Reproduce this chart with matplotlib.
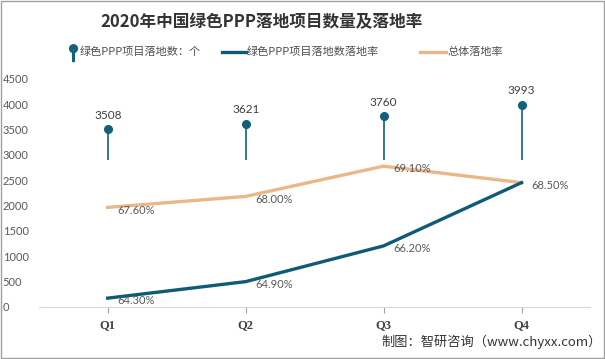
import matplotlib
matplotlib.use("Agg")
import matplotlib.pyplot as plt
from matplotlib.lines import Line2D
from matplotlib.patches import Rectangle
from matplotlib.path import Path

plt.rcParams['font.family'] = ['Noto Sans CJK SC', 'DejaVu Sans']

quarters = ["Q1", "Q2", "Q3", "Q4"]
green_count = [3508, 3621, 3760, 3993]
green_rate = [64.30, 64.90, 66.20, 68.50]
total_rate = [67.60, 68.00, 69.10, 68.50]
stem_base = 2900

teal = "#0f5b75"
marker_c = "#12607c"
tan = "#e9b886"

fig = plt.figure(figsize=(6.05, 3.59), dpi=100)
ax = fig.add_axes([0.064, 0.145, 0.912, 0.635])
x = list(range(len(quarters)))

# lollipops for project count
ax.vlines(x, stem_base, green_count, color=marker_c, lw=1.2, zorder=3)
ax.plot(x, green_count, 'o', color=marker_c, ms=5.5, zorder=4)
for xi, v in zip(x, green_count):
    ax.annotate(str(v), (xi, v), xytext=(0, 6), textcoords="offset points",
                ha="center", va="bottom", fontsize=8.5, color="#404040",
                family=["Lato"])

ax.set_xlim(-0.5, 3.5)
ax.set_ylim(0, 4500)
ax.set_yticks(range(0, 4501, 500))
ax.set_xticks(x)
ax.set_xticklabels(quarters, fontsize=9, fontweight="bold",
                   family=["Liberation Serif"], color="#404040")
ax.tick_params(axis="y", length=0, labelsize=8, labelcolor="#595959", pad=26)
ax.tick_params(axis="x", length=4, width=0.8, color="#a0a0a0", pad=5)
for lbl in ax.get_yticklabels():
    lbl.set_ha("left")
    lbl.set_family(["Lato"])
for s in ["top", "right", "left"]:
    ax.spines[s].set_visible(False)
ax.spines["bottom"].set_color("#d0d8e0")

# rates on a hidden secondary axis
ax2 = ax.twinx()
ax2.set_ylim(63.98, 72.27)
ax2.axis("off")
ax2.plot(x, total_rate, color=tan, lw=2.4, zorder=2)
ax2.plot(x, green_rate, color=teal, lw=2.4, zorder=3)
pct_kw = dict(textcoords="offset points", ha="left", va="center", fontsize=8,
              color="#595959", family=["Lato"])
for xi, v in zip(x, total_rate):
    ax2.annotate(f"{v:.2f}%", (xi, v), xytext=(7, -2), **pct_kw)
for xi, v in zip(x[:-1], green_rate[:-1]):
    ax2.annotate(f"{v:.2f}%", (xi, v), xytext=(7, -2), **pct_kw)

fig.text(0.432, 0.939, "2020年中国绿色PPP落地项目数量及落地率", ha="center", va="center",
         fontsize=12, fontweight="bold", color="#333333")

# legend, placed by hand
circ = Path.circle((0, 0.6), 0.6)
stem = Path([(-0.12, 0.6), (0.12, 0.6), (0.12, -1.4), (-0.12, -1.4), (-0.12, 0.6)],
            [Path.MOVETO, Path.LINETO, Path.LINETO, Path.LINETO, Path.CLOSEPOLY])
lolli = Path.make_compound_path(circ, stem)
ly = 0.855
fig.add_artist(Line2D([73 / 605], [ly], marker=lolli, ms=13, color=marker_c, lw=0,
                      transform=fig.transFigure))
fig.add_artist(Line2D([222 / 605, 246 / 605], [ly, ly], color=teal, lw=2.4,
                      transform=fig.transFigure))
fig.add_artist(Line2D([420 / 605, 446 / 605], [ly, ly], color=tan, lw=2.4,
                      transform=fig.transFigure))
leg_kw = dict(ha="left", va="center", fontsize=8, color="#505050")
fig.text(80 / 605, ly, "绿色PPP项目落地数：个", **leg_kw)
fig.text(247 / 605, ly, "绿色PPP项目落地数落地率", **leg_kw)
fig.text(447 / 605, ly, "总体落地率", **leg_kw)

fig.text(0.995, 0.047, "制图：智研咨询（www.chyxx.com）", ha="right", va="center",
         fontsize=9.5, color="#333333")

fig.patches.append(Rectangle((0.001, 0.002), 0.997, 0.995, transform=fig.transFigure,
                             fill=False, edgecolor="#a0a0a0", lw=1))

fig.savefig("out.png", dpi=100)
